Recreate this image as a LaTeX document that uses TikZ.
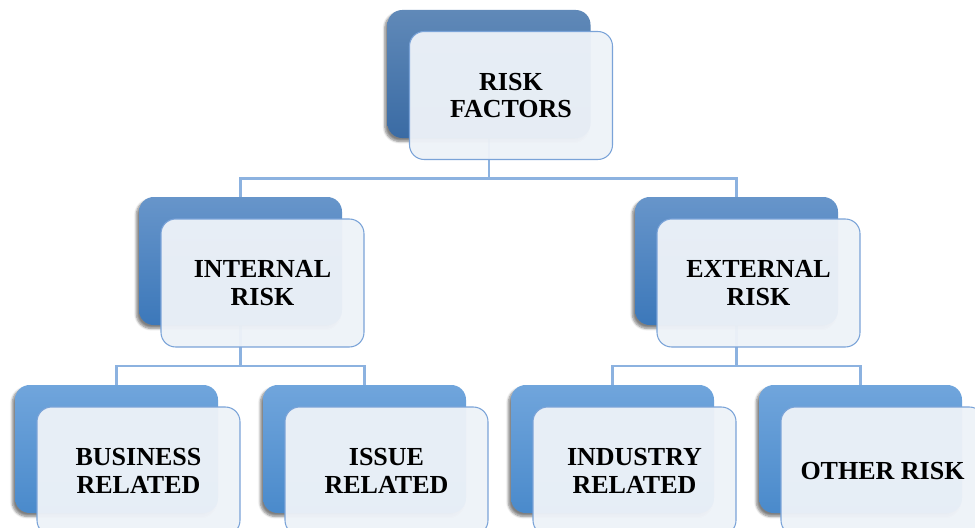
\documentclass[tikz,border=0pt]{standalone}
\usepackage{fontspec}
\setmainfont{Liberation Serif}
\usetikzlibrary{shadows.blur,backgrounds,calc}
\definecolor{lineblue}{HTML}{8CB2E0}
\definecolor{frontfill}{HTML}{EDF2F8}
\definecolor{frontdraw}{HTML}{7AA3D8}
\definecolor{aTop}{HTML}{6089B8}
\definecolor{aBot}{HTML}{3A6BA4}
\definecolor{bTop}{HTML}{6795CA}
\definecolor{bBot}{HTML}{3C78BA}
\definecolor{cTop}{HTML}{70A5DC}
\definecolor{cBot}{HTML}{4A8ACB}
\tikzset{
  backbox/.style={rectangle, rounded corners=11pt, minimum width=152.25pt, minimum height=96pt, inner sep=0pt,
    blur shadow={shadow xshift=-2pt, shadow yshift=-2.5pt, shadow blur steps=6, shadow opacity=50}},
  lvA/.style={backbox, top color=aTop, bottom color=aBot},
  lvB/.style={backbox, top color=bTop, bottom color=bBot},
  lvC/.style={backbox, top color=cTop, bottom color=cBot},
  frontbox/.style={rectangle, rounded corners=11pt, minimum width=152.25pt, minimum height=96pt, inner sep=0pt,
    draw=frontdraw, line width=0.8pt, fill=frontfill, fill opacity=0.96, text opacity=1,
    align=center, font=\fontsize{19.5}{20.6}\selectfont\bfseries},
  conn/.style={draw=lineblue, line width=1.8pt}
}
\begin{document}
\begin{tikzpicture}[x=0.75pt,y=-0.75pt]
\useasboundingbox (0,0) rectangle (975,528);
\clip (0,0) rectangle (975,528);
% back boxes
\node[lvA] (rb) at (489,74) {};
\node[lvB] (ib) at (240.5,261) {};
\node[lvB] (eb) at (736.5,261) {};
\node[lvC] (bb) at (116.5,449) {};
\node[lvC] (sb) at (364.5,449) {};
\node[lvC] (db) at (612.5,449) {};
\node[lvC] (ob) at (860.5,449) {};
% front boxes
\node[frontbox] (rf) at (511,95.5) {RISK\\FACTORS};
\node[frontbox] (if) at (262.5,283) {INTERNAL\\RISK};
\node[frontbox] (ef) at (758.5,283) {EXTERNAL\\RISK};
\node[frontbox] (bf) at (138.5,471) {BUSINESS\\RELATED};
\node[frontbox] (sf) at (386.5,471) {ISSUE\\RELATED};
\node[frontbox] (df) at (634.5,471) {INDUSTRY\\RELATED};
\node[frontbox] (of) at (882.5,471) {OTHER RISK};
% connectors
\begin{pgfonlayer}{background}
\coordinate (m1) at ($(rf.south)!0.5!(ib.north)$);
\coordinate (m2) at ($(if.south)!0.5!(bb.north)$);
\coordinate (m3) at ($(ef.south)!0.5!(db.north)$);
\draw[conn] (rb.center) -- (rb.center |- m1) -| (ib.north);
\draw[conn] (rb.center |- m1) -| (eb.north);
\draw[conn] (ib.center) -- (ib.center |- m2) -| (bb.north);
\draw[conn] (ib.center |- m2) -| (sb.north);
\draw[conn] (eb.center) -- (eb.center |- m3) -| (db.north);
\draw[conn] (eb.center |- m3) -| (ob.north);
\end{pgfonlayer}
\end{tikzpicture}
\end{document}
